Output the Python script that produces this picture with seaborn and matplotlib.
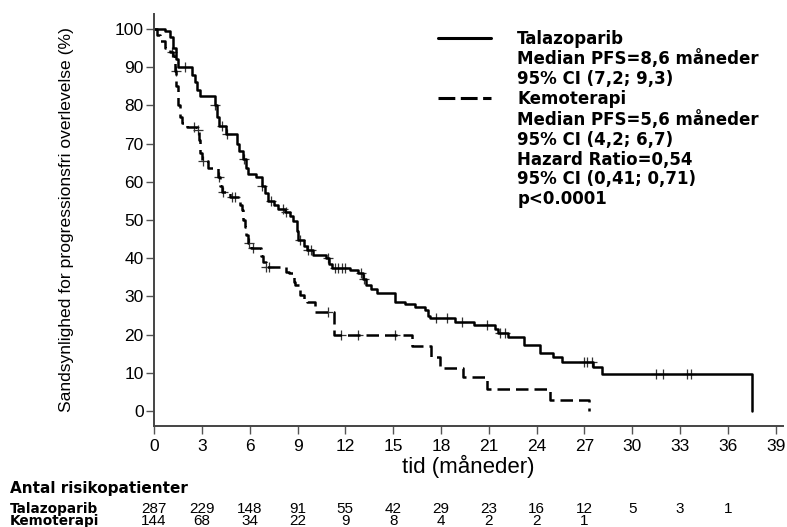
import numpy as np
import pandas as pd
import seaborn as sns
import matplotlib.pyplot as plt
from matplotlib.lines import Line2D
from matplotlib.transforms import blended_transform_factory

# Kaplan-Meier steps (month, PFS %)
tala_time = [0, 0.7, 1.0, 1.2, 1.35, 1.5, 2.4, 2.55, 2.7, 2.9, 3.8, 3.95, 4.1, 4.5, 5.2, 5.35,
             5.6, 5.75, 5.9, 6.4, 6.75, 6.95, 7.15, 7.5, 7.8, 8.2, 8.5, 8.7, 8.95, 9.05, 9.4,
             9.6, 10.0, 10.8, 11.0, 11.15, 12.3, 12.8, 13.1, 13.3, 13.6, 14.0, 15.1, 15.75,
             16.4, 17.0, 17.2, 17.3, 18.9, 20.1, 21.4, 21.6, 22.2, 23.2, 24.2, 25.05, 25.6,
             27.55, 28.1, 37.5]
tala_surv = [100, 99.5, 98, 95, 92, 90, 88, 86, 84, 82.5, 80, 77, 74.5, 72.5, 70, 68,
             66, 63.5, 62, 61.3, 59, 57, 55, 54, 53, 52, 51, 49.6, 47, 44.8, 43.2,
             42.1, 40.8, 40, 38.5, 37.4, 37, 36, 34.5, 33, 32, 30.8, 28.6, 28,
             27.3, 26.5, 25, 24.3, 23.4, 22.5, 21.5, 20.4, 19.4, 17.3, 15.1, 14.2, 12.9,
             11.6, 9.7, 0]
tala_censor = [1.95, 3.85, 4.25, 4.6, 5.65, 6.8, 7.35, 8.1, 8.3, 9.15, 9.65, 9.85, 10.9,
               11.35, 11.55, 11.8, 12.0, 13.0, 13.2, 17.7, 18.35, 19.3, 20.9, 21.7, 22.0,
               26.95, 27.15, 27.5, 31.5, 31.9, 33.45, 33.7]

kemo_time = [0, 0.2, 0.4, 0.7, 1.0, 1.2, 1.3, 1.4, 1.5, 1.65, 1.75, 2.05, 2.7, 2.8, 2.9,
             3.0, 3.4, 4.0, 4.15, 4.25, 4.75, 5.4, 5.5, 5.6, 5.7, 5.8, 5.9, 6.1, 6.7, 6.85,
             7.0, 8.3, 8.45, 8.75, 8.85, 9.15, 9.4, 9.6, 10.1, 11.3, 16.2, 17.4, 17.95,
             19.4, 20.9, 24.85, 27.3]
kemo_surv = [100, 98.5, 96.7, 95, 94, 93, 89, 85, 80, 77, 75.3, 74.4, 73.6, 71, 67.5,
             65.3, 63.5, 61.3, 59, 57.4, 56.1, 54, 52.6, 50, 48.2, 46, 43.9, 42.6, 40.5, 39,
             37.8, 36.5, 36, 33.8, 33, 30.4, 29.3, 28.6, 26, 19.9, 17, 14.2, 11.3,
             8.8, 5.7, 2.9, 0]
kemo_censor = [1.1, 1.35, 2.5, 2.75, 3.05, 4.05, 4.3, 4.9, 5.1, 5.95, 6.2, 7.05, 7.2,
               10.9, 11.7, 12.8, 15.1]

# number at risk
risk_months = [0, 3, 6, 9, 12, 15, 18, 21, 24, 27, 30, 33, 36]
tala_risk = [287, 229, 148, 91, 55, 42, 29, 23, 16, 12, 5, 3, 1]
kemo_risk = [144, 68, 34, 22, 9, 8, 4, 2, 2, 1]

tala_legend = ["Talazoparib", "Median PFS=8,6 måneder", "95% CI (7,2; 9,3)"]
kemo_legend = ["Kemoterapi", "Median PFS=5,6 måneder", "95% CI (4,2; 6,7)"]
hr_legend = ["Hazard Ratio=0,54", "95% CI (0,41; 0,71)", "p<0.0001"]


def censor_y(times, surv, cens):
    idx = np.searchsorted(times, cens, side="right") - 1
    return np.asarray(surv)[idx]


curves = pd.DataFrame({
    "tid": tala_time + kemo_time,
    "pfs": tala_surv + kemo_surv,
    "arm": ["Talazoparib"] * len(tala_time) + ["Kemoterapi"] * len(kemo_time),
})
marks = pd.DataFrame({
    "tid": tala_censor + kemo_censor,
    "pfs": np.concatenate([censor_y(tala_time, tala_surv, tala_censor),
                           censor_y(kemo_time, kemo_surv, kemo_censor)]),
})

sns.set_style("ticks")
plt.rcParams["font.family"] = ["Liberation Sans", "DejaVu Sans"]
plt.rcParams["text.color"] = "black"
plt.rcParams["axes.labelcolor"] = "black"
plt.rcParams["xtick.labelcolor"] = "black"
plt.rcParams["ytick.labelcolor"] = "black"

fig = plt.figure(figsize=(7.87, 5.27), dpi=100)
ax = fig.add_axes([0.1957, 0.1917, 0.7992, 0.7818])

sns.lineplot(data=curves, x="tid", y="pfs", style="arm", color="black",
             dashes={"Talazoparib": "", "Kemoterapi": (5, 2.4)},
             drawstyle="steps-post", estimator=None, sort=False,
             linewidth=1.8, legend=False, ax=ax)
sns.scatterplot(data=marks, x="tid", y="pfs", marker="+", color="#333333",
                s=45, linewidth=0.9, ax=ax)

ax.set_xlim(0, 39.45)
ax.set_ylim(-3.9, 103.9)
ax.set_xticks(range(0, 40, 3))
ax.set_yticks(range(0, 101, 10))
sns.despine(ax=ax)
for s in ["left", "bottom"]:
    ax.spines[s].set_color("#444444")
    ax.spines[s].set_linewidth(1.4)
ax.tick_params(axis="both", length=5.5, width=1, color="#555555", labelsize=12.5)
ax.tick_params(axis="y", pad=2)
ax.tick_params(axis="x", pad=4)

ax.set_xlabel("tid (måneder)", fontsize=16)
ax.set_ylabel("Sandsynlighed for progressionsfri overlevelse (%)", fontsize=12.6)
ax.xaxis.set_label_coords(0.5, -0.07)
ax.yaxis.set_label_coords(-0.128, 0.5)

# legend: one row per text line, the arm line only on the first row
blank = Line2D([], [], color="none")
handles = ([Line2D([], [], color="black", lw=2.2)] + [blank] * 2
           + [Line2D([], [], color="black", lw=2.2, dashes=(5.5, 1.8))] + [blank] * 2
           + [blank] * 3)
labels = tala_legend + kemo_legend + hr_legend
ax.legend(handles, labels, loc="upper left", bbox_to_anchor=(0.4515, 0.962),
          frameon=False, borderpad=0, borderaxespad=0, labelspacing=0.11,
          handlelength=3.2, handletextpad=1.55,
          prop={"family": "DejaVu Sans", "weight": "bold", "size": 12})

# number at risk table
row_y = {"Talazoparib": 0.027, "Kemoterapi": 0.003}
fig.text(10 / 787, 0.064, "Antal risikopatienter", fontsize=11, fontweight="bold",
         family="DejaVu Sans", va="baseline")
for name in row_y:
    fig.text(10 / 787, row_y[name], name, fontsize=9.8, fontweight="bold",
             family="DejaVu Sans", va="baseline")
row_tf = blended_transform_factory(ax.transData, fig.transFigure)
for m, n in zip(risk_months, tala_risk):
    ax.text(m, row_y["Talazoparib"], str(n), fontsize=11, ha="center",
            va="baseline", transform=row_tf)
for m, n in zip(risk_months, kemo_risk):
    ax.text(m, row_y["Kemoterapi"], str(n), fontsize=11, ha="center",
            va="baseline", transform=row_tf)

fig.savefig("out.png", dpi=100)
